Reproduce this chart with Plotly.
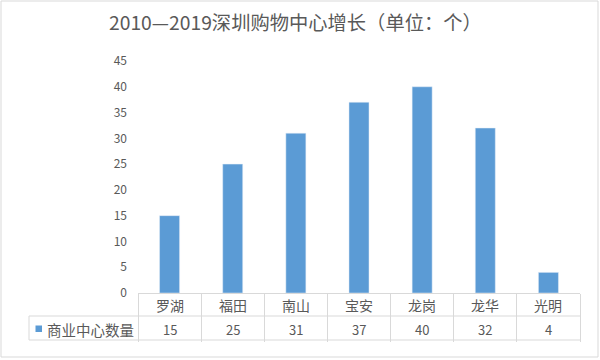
import plotly.graph_objects as go

categories = ["罗湖", "福田", "南山", "宝安", "龙岗", "龙华", "光明"]
values = [15, 25, 31, 37, 40, 32, 4]
series_name = "商业中心数量"
title_text = "2010—2019深圳购物中心增长（单位：个）"

W, H = 600, 360
L, R, T, B = 138, 20, 61, 67
PW = W - L - R
PH = H - T - B
FONT = "Noto Sans CJK SC"
TXT = "#595959"
GRID = "#d9d9d9"
BLUE = "#5B9BD5"


def px(x):
    return (x - L) / PW


def py(y):
    return (H - B - y) / PH


fig = go.Figure()
fig.add_trace(go.Bar(x=categories, y=values, marker_color=BLUE, name=series_name))

shapes = []
# outer chart border
shapes.append(dict(type="rect", xref="paper", yref="paper", x0=px(1), x1=px(598), y0=py(1), y1=py(357),
                   line=dict(color=GRID, width=1)))
# table horizontal lines
for yy in (316, 340):
    shapes.append(dict(type="line", xref="paper", yref="paper", x0=px(29), x1=1, y0=py(yy), y1=py(yy),
                       line=dict(color=GRID, width=1)))
# table left border of second row
shapes.append(dict(type="line", xref="paper", yref="paper", x0=px(29), x1=px(29), y0=py(316), y1=py(340),
                   line=dict(color=GRID, width=1)))
# legend key
shapes.append(dict(type="rect", xref="paper", yref="paper", x0=px(35.5), x1=px(42), y0=py(325.5), y1=py(332),
                   fillcolor=BLUE, line=dict(width=0)))

annotations = []
for c, v in zip(categories, values):
    annotations.append(dict(x=c, xref="x", y=py(305), yref="paper", text=c, showarrow=False,
                            font=dict(family=FONT, size=14, color=TXT), xanchor="center", yanchor="middle"))
    annotations.append(dict(x=c, xref="x", y=py(329), yref="paper", text=str(v), showarrow=False,
                            font=dict(family=FONT, size=13, color=TXT), xanchor="center", yanchor="middle"))
annotations.append(dict(x=px(45), xref="paper", y=py(329), yref="paper", text=series_name, showarrow=False,
                        font=dict(family=FONT, size=14.5, color=TXT), xanchor="left", yanchor="middle"))
annotations.append(dict(x=px(295), xref="paper", y=py(22), yref="paper", text=title_text, showarrow=False,
                        font=dict(family=FONT, size=19.3, color=TXT), xanchor="center", yanchor="middle"))

fig.update_layout(
    width=W, height=H,
    margin=dict(l=L, r=R, t=T, b=B),
    paper_bgcolor="white", plot_bgcolor="white",
    showlegend=False,
    bargap=0.683,
    shapes=shapes,
    annotations=annotations,
    font=dict(family=FONT, color=TXT),
)
fig.update_xaxes(showticklabels=False, ticks="outside", tickson="boundaries", ticklen=48,
                 tickcolor=GRID, tickwidth=1, showline=True, linecolor=GRID, linewidth=1,
                 showgrid=False, zeroline=False)
fig.update_yaxes(range=[0, 45], dtick=5, showgrid=False, zeroline=False, showline=False,
                 ticks="", ticklabelstandoff=10, tickfont=dict(family=FONT, size=12, color=TXT))

fig.write_html("out.html", config={"displayModeBar": False},
               post_script="document.body.style.margin='0';")
